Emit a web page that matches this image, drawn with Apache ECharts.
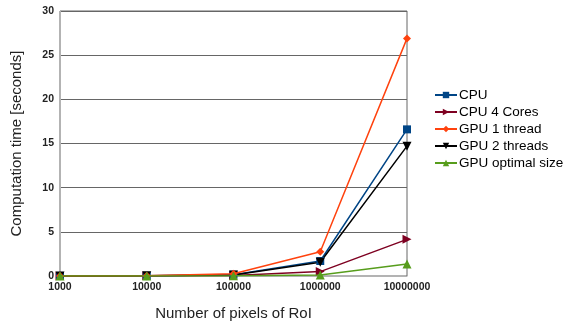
<!DOCTYPE html>
<html><head><meta charset="utf-8">
<script src="https://cdn.jsdelivr.net/npm/echarts@6/dist/echarts.min.js"></script>
<style>html,body{margin:0;padding:0;background:#fff}#c{width:565px;height:322px}</style>
</head><body><div id="c"></div>
<script>
const categories = ['1000','10000','100000','1000000','10000000'];
const seriesNames = ['CPU','CPU 4 Cores','GPU 1 thread','GPU 2 threads','GPU optimal size'];
const cpu = [0.01, 0.02, 0.15, 1.7, 16.6];
const cpu4 = [0.01, 0.02, 0.06, 0.5, 4.15];
const gpu1 = [0.01, 0.03, 0.25, 2.75, 26.9];
const gpu2 = [0.01, 0.02, 0.12, 1.55, 14.7];
const gpuOpt = [0.01, 0.01, 0.02, 0.1, 1.36];
const yTicks = [0, 5, 10, 15, 20, 25, 30];

const colors = ['#004586','#7e0021','#ff420e','#000000','#579d1c'];
const symbols = ['rect','triangle','diamond','triangle','triangle'];
const rotates = [0,-90,0,180,0];
const sizes = [8,9,8,9,9];
const datas = [cpu, cpu4, gpu1, gpu2, gpuOpt];

const chart = echarts.init(document.getElementById('c'), null, {renderer:'canvas'});
chart.setOption({
  animation:false,
  textStyle:{fontFamily:'Liberation Sans, Arial, sans-serif'},
  grid:{left:60, right:158, top:11, bottom:46, show:true, borderColor:'#666', borderWidth:1,
        containLabel:false, outerBoundsMode:'none'},
  legend:{
    orient:'vertical', left:429, top:83, itemWidth:22, itemHeight:8, itemGap:3,
    textStyle:{fontSize:13.5, color:'#000', padding:[0,0,0,-3], lineHeight:13},
    data: seriesNames
  },
  xAxis:{
    type:'category', data:categories, boundaryGap:false,
    name:'Number of pixels of RoI', nameLocation:'middle', nameGap:30,
    nameTextStyle:{fontSize:15, color:'#222'},
    axisLine:{show:true, lineStyle:{color:'#b3b3b3'}},
    axisTick:{show:false},
    axisLabel:{fontSize:10.5, fontWeight:'bold', color:'#222', margin:6},
    splitLine:{show:false}
  },
  yAxis:{
    type:'value', min:0, max:30, interval:5,
    name:'Computation time [seconds]', nameLocation:'middle', nameGap:36,
    nameTextStyle:{fontSize:15, color:'#222'},
    axisLine:{show:true, lineStyle:{color:'#b3b3b3'}},
    axisTick:{show:false},
    axisLabel:{fontSize:10.5, fontWeight:'bold', color:'#222', margin:6,
      formatter: v => yTicks.includes(v) ? String(v) : ''},
    splitLine:{show:true, lineStyle:{color:'#666', width:1}}
  },
  series: seriesNames.map((n,i)=>({
    name:n, type:'line', data:datas[i],
    symbol:symbols[i], symbolSize:sizes[i], symbolRotate:rotates[i], showAllSymbol:true,
    lineStyle:{color:colors[i], width:1.5},
    itemStyle:{color:colors[i]},
    z: [3,2,4,3,5][i]
  }))
});
</script></body></html>
